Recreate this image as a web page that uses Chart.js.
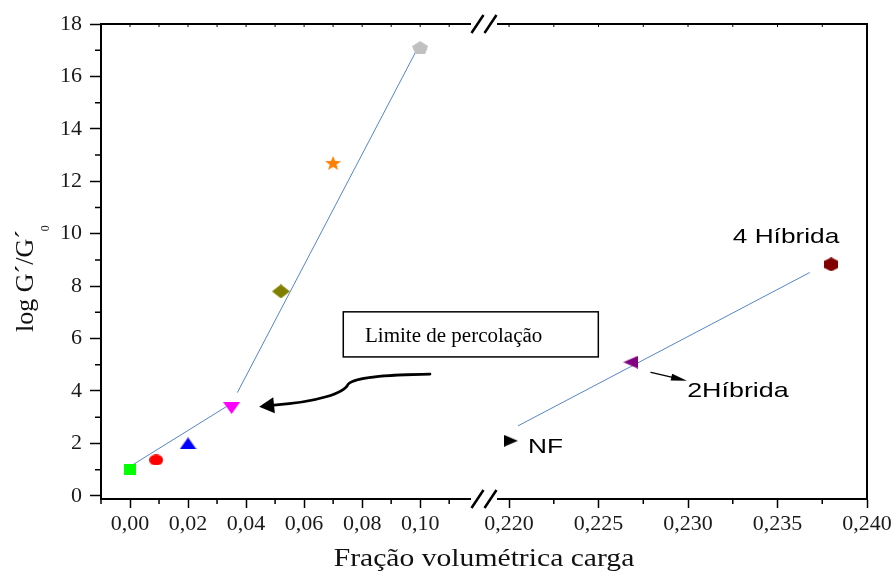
<!DOCTYPE html>
<html>
<head>
<meta charset="utf-8">
<script src="https://cdn.jsdelivr.net/npm/chart.js@4.4.0/dist/chart.umd.min.js"></script>
<style>
  html, body { margin: 0; padding: 0; background: #fff; }
  #wrap { width: 896px; height: 575px; }
</style>
</head>
<body>
<div id="wrap"><canvas id="graph"></canvas></div>
<script>
// values
const leftX = [0.000, 0.009, 0.020, 0.035, 0.052, 0.070, 0.100];
const leftY = [1.00, 1.37, 2.00, 3.35, 7.80, 12.70, 17.10];
const rightNames = ['NF', '2Híbrida', '4 Híbrida'];
const rightX = [0.2201, 0.2268, 0.2380];
const rightY = [2.10, 5.10, 8.83];

// fitted straight lines (end points)
const fitLowX = [0.000, 0.0333];
const fitLowY = [1.12, 3.41];
const fitHighX = [0.0370, 0.0983];
const fitHighY = [3.94, 16.90];
const fitRightX = [0.2205, 0.2368];
const fitRightY = [2.67, 8.52];

// ticks
const yTicks = [0, 2, 4, 6, 8, 10, 12, 14, 16, 18];
const yMinor = [1, 3, 5, 7, 9, 11, 13, 15, 17];
const xLeftTicks = [0.00, 0.02, 0.04, 0.06, 0.08, 0.10];
const xLeftMinor = [-0.01, 0.01, 0.03, 0.05, 0.07, 0.09, 0.11];
const xRightTicks = [0.220, 0.225, 0.230, 0.235, 0.240];
const xRightMinor = [0.2225, 0.2275, 0.2325, 0.2375];

const xTitle = 'Fração volumétrica carga';
const yTitle = 'log G´/G´';
const ySub = '0';
const boxText = 'Limite de percolação';

// marker styles
const leftStyle = [
  {shape: 'square', color: '#00ff00', w: 12, h: 11},
  {shape: 'circle', color: '#ff0000', w: 14, h: 11},
  {shape: 'triUp', color: '#0000ff', w: 17, h: 12},
  {shape: 'triDown', color: '#ff00ff', w: 17, h: 12},
  {shape: 'diamond', color: '#808000', w: 18, h: 14},
  {shape: 'star', color: '#ff8000', w: 16, h: 14},
  {shape: 'pentagon', color: '#c0c0c0', w: 16, h: 13}
];
const rightStyle = [
  {shape: 'triRight', color: '#000000', w: 14, h: 12},
  {shape: 'triLeft', color: '#800080', w: 15, h: 13},
  {shape: 'hexagon', color: '#800000', w: 14, h: 14}
];

function poly(n, start) {
  const p = [];
  for (let k = 0; k < n; k++) {
    const a = (start + k * 360 / n) * Math.PI / 180;
    p.push([Math.cos(a), Math.sin(a)]);
  }
  return p;
}
function starPts() {
  const p = [];
  for (let k = 0; k < 10; k++) {
    const a = (-90 + k * 36) * Math.PI / 180;
    const r = k % 2 ? 0.42 : 1;
    p.push([r * Math.cos(a), r * Math.sin(a)]);
  }
  return p;
}
const SHAPES = {
  square: () => [[0, 0], [1, 0], [1, 1], [0, 1]],
  triUp: () => [[0, -1], [1, 1], [-1, 1]],
  triDown: () => [[0, 1], [1, -1], [-1, -1]],
  triRight: () => [[1, 0], [-1, -1], [-1, 1]],
  triLeft: () => [[-1, 0], [1, -1], [1, 1]],
  diamond: () => [[0, -1], [1, 0], [0, 1], [-1, 0]],
  pentagon: () => poly(5, -90),
  hexagon: () => poly(6, -90),
  star: starPts
};

function marker(s) {
  const c = document.createElement('canvas');
  c.width = s.w; c.height = s.h;
  const g = c.getContext('2d');
  g.fillStyle = s.color;
  g.beginPath();
  if (s.shape === 'circle') {
    g.ellipse(s.w / 2, s.h / 2, s.w / 2, s.h / 2, 0, 0, Math.PI * 2);
  } else {
    const pts = SHAPES[s.shape]();
    const xs = pts.map(p => p[0]), ys = pts.map(p => p[1]);
    const x0 = Math.min(...xs), x1 = Math.max(...xs), y0 = Math.min(...ys), y1 = Math.max(...ys);
    pts.forEach(([x, y], i) => {
      const px = (x - x0) / (x1 - x0) * s.w, py = (y - y0) / (y1 - y0) * s.h;
      if (i) g.lineTo(px, py); else g.moveTo(px, py);
    });
    g.closePath();
  }
  g.fill();
  return c;
}

const pairs = (xs, ys) => xs.map((x, i) => ({x: x, y: ys[i]}));
const fmt = d => v => Number(v).toFixed(d).replace('.', ',');

const SERIF = 'Liberation Serif';
const SANS = 'Liberation Sans';
const lineBlue = '#5585c8';

function stretchedText(ctx, text, x, y, font, sx) {
  ctx.save();
  ctx.font = font;
  ctx.translate(x, y);
  ctx.scale(sx, 1);
  ctx.textAlign = 'left';
  ctx.textBaseline = 'alphabetic';
  ctx.fillText(text, 0, 0);
  ctx.restore();
}

function arrowHead(ctx, fx, fy, tx, ty, len, half) {
  const a = Math.atan2(ty - fy, tx - fx);
  const bx = tx - len * Math.cos(a), by = ty - len * Math.sin(a);
  ctx.beginPath();
  ctx.moveTo(tx, ty);
  ctx.lineTo(bx + half * Math.sin(a), by - half * Math.cos(a));
  ctx.lineTo(bx - half * Math.sin(a), by + half * Math.cos(a));
  ctx.closePath();
  ctx.fill();
}

// frame, axis break, minor ticks, titles and annotations
const decor = {
  id: 'decor',
  afterDraw(chart) {
    const {ctx, chartArea: a} = chart;
    const xl = chart.scales.xl, xr = chart.scales.xr, y = chart.scales.y;
    const L = (vx, vy) => [xl.getPixelForValue(vx), y.getPixelForValue(vy)];
    const R = (vx, vy) => [xr.getPixelForValue(vx), y.getPixelForValue(vy)];
    const bx = xl.right;

    ctx.save();
    ctx.strokeStyle = '#000';
    ctx.fillStyle = '#000';
    ctx.lineCap = 'butt';

    // top and right frame
    ctx.lineWidth = 2;
    ctx.beginPath();
    ctx.moveTo(a.left - 1, a.top);
    ctx.lineTo(a.right, a.top);
    ctx.moveTo(a.right, a.top - 1);
    ctx.lineTo(a.right, a.bottom + 1);
    ctx.stroke();

    // minor ticks
    ctx.lineWidth = 1.5;
    ctx.beginPath();
    yMinor.forEach(v => {
      const py = y.getPixelForValue(v);
      ctx.moveTo(a.left - 6, py); ctx.lineTo(a.left, py);
    });
    xLeftMinor.forEach(v => {
      const px = xl.getPixelForValue(v);
      ctx.moveTo(px, a.bottom); ctx.lineTo(px, a.bottom + 5);
    });
    xRightMinor.forEach(v => {
      const px = xr.getPixelForValue(v);
      ctx.moveTo(px, a.bottom); ctx.lineTo(px, a.bottom + 5);
    });
    ctx.stroke();

    // tiny ticks on the top frame
    ctx.lineWidth = 1;
    ctx.beginPath();
    xLeftTicks.concat(xLeftMinor).forEach(v => {
      const px = xl.getPixelForValue(v);
      if (px > a.left + 2 && px < bx - 14) { ctx.moveTo(px, a.top); ctx.lineTo(px, a.top + 3); }
    });
    xRightTicks.concat(xRightMinor).forEach(v => {
      const px = xr.getPixelForValue(v);
      if (px > bx + 14 && px < a.right - 2) { ctx.moveTo(px, a.top); ctx.lineTo(px, a.top + 3); }
    });
    ctx.stroke();

    // axis break
    ctx.fillStyle = '#fff';
    ctx.fillRect(bx - 13, a.bottom - 3, 26, 6);
    ctx.fillRect(bx - 13, a.top - 3, 26, 6);
    ctx.fillStyle = '#000';
    ctx.lineWidth = 2.5;
    ctx.beginPath();
    [a.bottom, a.top].forEach(yy => {
      [-6.5, 6.5].forEach(dx => {
        ctx.moveTo(bx + dx - 6, yy + 9);
        ctx.lineTo(bx + dx + 6, yy - 9);
      });
    });
    ctx.stroke();

    // axis titles
    ctx.fillStyle = '#111';
    ctx.font = '26px "' + SERIF + '"';
    const tw = ctx.measureText(xTitle).width * 1.14;
    stretchedText(ctx, xTitle, (a.left + a.right) / 2 - tw / 2, 566, '26px "' + SERIF + '"', 1.14);

    ctx.save();
    ctx.translate(33, 332);
    ctx.rotate(-Math.PI / 2);
    ctx.font = '26px "' + SERIF + '"';
    ctx.textBaseline = 'alphabetic';
    ctx.fillText(yTitle, 0, 0);
    const yw = ctx.measureText(yTitle).width;
    ctx.font = '12px "' + SERIF + '"';
    ctx.fillText(ySub, yw - 1, 16);
    ctx.restore();

    // annotation box
    ctx.fillStyle = '#000';
    const b1 = L(0.0735, 7.02), b2 = L(0.1614, 5.30);
    ctx.lineWidth = 1.5;
    ctx.strokeRect(b1[0], b1[1], b2[0] - b1[0], b2[1] - b1[1]);
    const bt = L(0.0810, 5.862);
    stretchedText(ctx, boxText, bt[0], bt[1], '20px "' + SERIF + '"', 1.05);

    // curved arrow towards the percolation point
    const p0 = L(0.1034, 4.643), c1 = L(0.0913, 4.624), c2 = L(0.0779, 4.567), p1 = L(0.0752, 4.263);
    const c3 = L(0.0738, 3.919), c4 = L(0.0648, 3.576), p2 = L(0.0496, 3.462), tip = L(0.0445, 3.397);
    ctx.lineWidth = 2.6;
    ctx.lineCap = 'round';
    ctx.beginPath();
    ctx.moveTo(p0[0], p0[1]);
    ctx.bezierCurveTo(c1[0], c1[1], c2[0], c2[1], p1[0], p1[1]);
    ctx.bezierCurveTo(c3[0], c3[1], c4[0], c4[1], p2[0], p2[1]);
    ctx.stroke();
    arrowHead(ctx, p2[0] + 12, p2[1] - 1, tip[0], tip[1], 15, 8);

    // small arrow to 2Híbrida
    const s0 = R(0.22793, 4.708), s1 = R(0.22994, 4.388);
    ctx.lineWidth = 1.3;
    ctx.beginPath();
    ctx.moveTo(s0[0], s0[1]);
    ctx.lineTo(s1[0] - 8, s1[1] - 1.9);
    ctx.stroke();
    arrowHead(ctx, s0[0], s0[1], s1[0], s1[1], 16, 3.5);

    // sample labels
    const sans = '21px "' + SANS + '"';
    const t0 = R(0.22106, 1.633), t1 = R(0.22995, 3.778), t2 = R(0.23250, 9.646);
    stretchedText(ctx, rightNames[0], t0[0], t0[1], sans, 1.25);
    stretchedText(ctx, rightNames[1], t1[0], t1[1], sans, 1.28);
    stretchedText(ctx, rightNames[2], t2[0], t2[1], sans, 1.25);

    ctx.restore();
  }
};

const xScaleBase = (min, max, ticks, digits) => ({
  type: 'linear',
  position: 'bottom',
  stack: 'x',
  stackWeight: 1,
  min: min,
  max: max,
  afterBuildTicks: s => { s.ticks = ticks.map(v => ({value: v})); },
  afterFit: s => { s.height = 76; s.paddingLeft = 0; s.paddingRight = 0; },
  ticks: {
    callback: fmt(digits),
    font: {family: SERIF, size: 22},
    color: '#1a1a1a',
    padding: 3,
    maxRotation: 0,
    autoSkip: false
  },
  grid: {drawOnChartArea: false, tickLength: 9, tickWidth: 1.5, tickColor: '#000'},
  border: {color: '#000', width: 2}
});

new Chart(document.getElementById('graph'), {
  type: 'scatter',
  data: {
    datasets: [
      {
        label: 'amostras',
        xAxisID: 'xl',
        data: pairs(leftX, leftY),
        pointStyle: leftStyle.map(marker),
        showLine: false
      },
      {
        label: 'híbridas',
        xAxisID: 'xr',
        data: pairs(rightX, rightY),
        pointStyle: rightStyle.map(marker),
        showLine: false
      },
      {
        label: 'ajuste 1',
        xAxisID: 'xl',
        data: pairs(fitLowX, fitLowY),
        showLine: true,
        pointRadius: 0,
        borderColor: lineBlue,
        borderWidth: 1
      },
      {
        label: 'ajuste 2',
        xAxisID: 'xl',
        data: pairs(fitHighX, fitHighY),
        showLine: true,
        pointRadius: 0,
        borderColor: lineBlue,
        borderWidth: 1
      },
      {
        label: 'ajuste 3',
        xAxisID: 'xr',
        data: pairs(fitRightX, fitRightY),
        showLine: true,
        pointRadius: 0,
        borderColor: lineBlue,
        borderWidth: 1
      }
    ]
  },
  options: {
    responsive: true,
    maintainAspectRatio: false,
    animation: false,
    events: [],
    layout: {padding: {top: 24, right: 29, left: 0, bottom: 0}},
    plugins: {legend: {display: false}, tooltip: {enabled: false}},
    scales: {
      xl: xScaleBase(-0.01, 0.122, xLeftTicks, 2),
      xr: xScaleBase(0.2186, 0.240, xRightTicks, 3),
      y: {
        type: 'linear',
        position: 'left',
        min: -0.12,
        max: 18,
        afterBuildTicks: s => { s.ticks = yTicks.map(v => ({value: v})); },
        afterFit: s => { s.width = 101; s.paddingTop = 0; s.paddingBottom = 0; },
        ticks: {
          font: {family: SERIF, size: 22},
          color: '#1a1a1a',
          padding: 8
        },
        grid: {drawOnChartArea: false, tickLength: 11, tickWidth: 1.5, tickColor: '#000'},
        border: {color: '#000', width: 2}
      }
    }
  },
  plugins: [decor]
});
</script>
</body>
</html>
